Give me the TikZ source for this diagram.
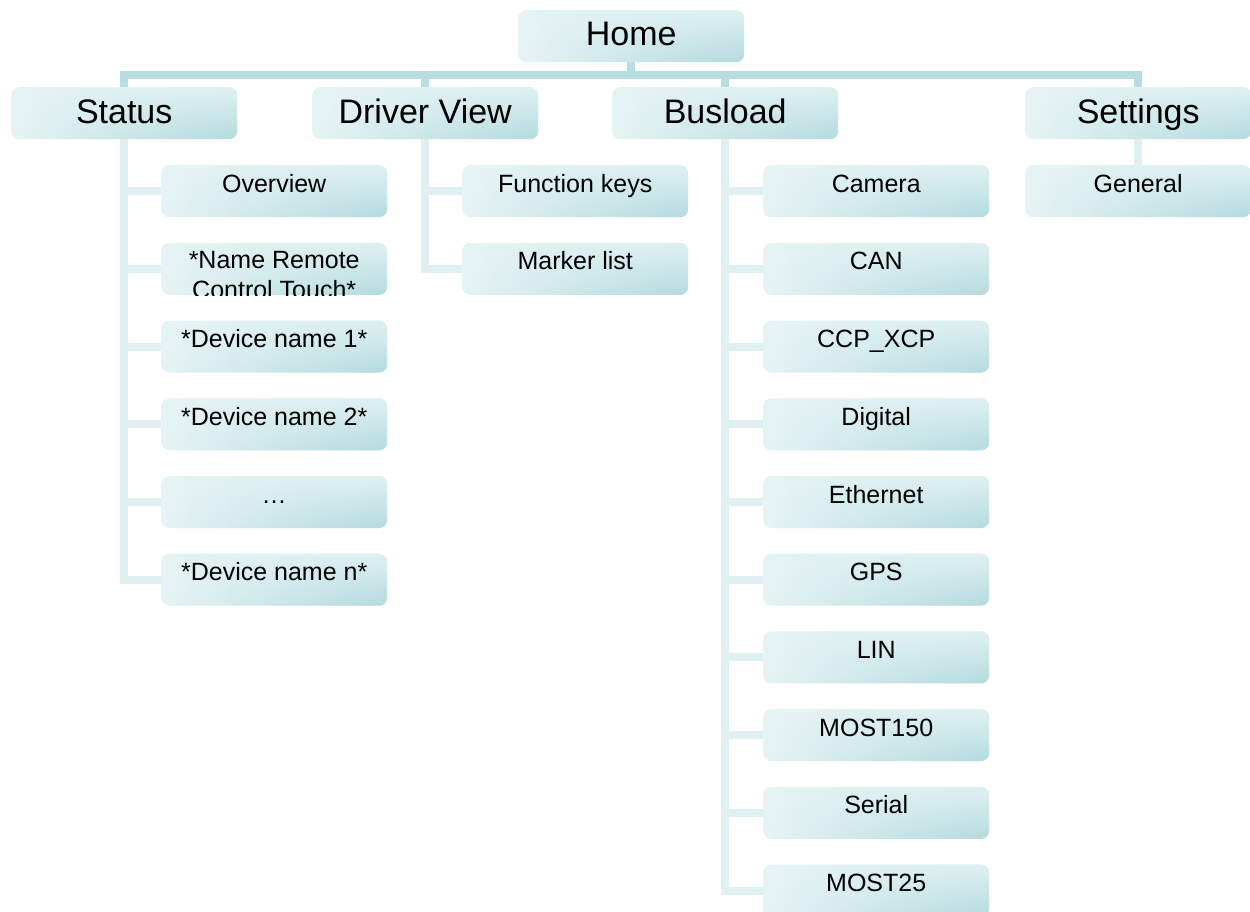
\documentclass[tikz,border=0pt]{standalone}
\usepackage{fontspec}
\setmainfont{Liberation Sans}
\usetikzlibrary{backgrounds,fadings}
\definecolor{lineD}{HTML}{B8DDE1}
\definecolor{lineL}{HTML}{E0F0F2}
\definecolor{boxA}{HTML}{E7F4F5}
\definecolor{boxR}{HTML}{DBEFF0}
\definecolor{boxT}{HTML}{E0F1F2}
\definecolor{boxB}{HTML}{B4DBDF}
\tikzfading[name=rightfade, left color=transparent!100, middle color=transparent!75, right color=transparent!0]
\tikzset{
  box/.style={rounded corners=8pt, draw=none, left color=boxA, right color=boxR,
    postaction={top color=boxT, bottom color=boxB, path fading=rightfade},
    inner sep=0pt, minimum width=226pt, minimum height=52pt, anchor=north west},
  lvlzero/.style={box, font=\fontsize{34}{40}\selectfont, text height=35pt, text depth=17pt},
  lvlone/.style={box, font=\fontsize{34}{40}\selectfont, text height=36pt, text depth=16pt},
  lvltwo/.style={box, font=\fontsize{25}{30}\selectfont, text height=27pt, text depth=25pt},
  lnD/.style={line width=8pt, draw=lineD, line join=miter},
  lnL/.style={line width=8pt, draw=lineL, line join=miter},
}
\begin{document}
\begin{tikzpicture}[x=1pt, y=-1pt]
\useasboundingbox (0,0) rectangle (1250,911);
% nodes
\node[lvlzero] (home) at (518,10) {Home};
\node[lvlone] (status) at (11,87) {Status};
\node[lvlone] (driver) at (312,87) {Driver View};
\node[lvlone] (busload) at (612,87) {Busload};
\node[lvlone] (settings) at (1025,87) {Settings};
% status children
\node[lvltwo] (ov) at (161,165) {Overview};
\node[lvltwo] (nrc) at (161,242.7) {};
\node[lvltwo] (dn1) at (161,320.4) {*Device name 1*};
\node[lvltwo] (dn2) at (161,398.1) {*Device name 2*};
\node[lvltwo] (dots) at (161,475.8) {…};
\node[lvltwo] (dnn) at (161,553.5) {*Device name n*};
% driver view children
\node[lvltwo] (fk) at (462,165) {Function keys};
\node[lvltwo] (ml) at (462,242.7) {Marker list};
% busload children
\node[lvltwo] (cam) at (763,165) {Camera};
\node[lvltwo] (can) at (763,242.7) {CAN};
\node[lvltwo] (ccp) at (763,320.4) {CCP\_XCP};
\node[lvltwo] (dig) at (763,398.1) {Digital};
\node[lvltwo] (eth) at (763,475.8) {Ethernet};
\node[lvltwo] (gps) at (763,553.5) {GPS};
\node[lvltwo] (lin) at (763,631.2) {LIN};
\node[lvltwo] (m150) at (763,708.9) {MOST150};
\node[lvltwo] (ser) at (763,786.6) {Serial};
\node[lvltwo] (m25) at (763,864.3) {MOST25};
% settings child
\node[lvltwo] (gen) at (1025,165) {General};
% clipped two-line text
\begin{scope}
  \clip[rounded corners=8pt] (nrc.north west) rectangle (nrc.south east);
  \node[anchor=base, font=\fontsize{25}{30}\selectfont, align=center, inner sep=0pt] (nrctext) at ([yshift=-56pt]nrc.north) {*Name Remote\\Control Touch*};
\end{scope}
% connectors (behind)
\begin{scope}[on background layer]
  \draw[lnD] (home.south) -- ++(0,13) -| (status.north);
  \draw[lnD] (home.south) -- ++(0,13) -| (driver.north);
  \draw[lnD] (home.south) -- ++(0,13) -| (busload.north);
  \draw[lnD] (home.south) -- ++(0,13) -| (settings.north);
  \foreach \c in {ov,nrc,dn1,dn2,dots,dnn} \draw[lnL] (status.south) |- (\c.west);
  \foreach \c in {fk,ml} \draw[lnL] (driver.south) |- (\c.west);
  \foreach \c in {cam,can,ccp,dig,eth,gps,lin,m150,ser,m25} \draw[lnL] (busload.south) |- (\c.west);
  \draw[lnL] (settings.south) -- (gen.north);
\end{scope}
\end{tikzpicture}
\end{document}
